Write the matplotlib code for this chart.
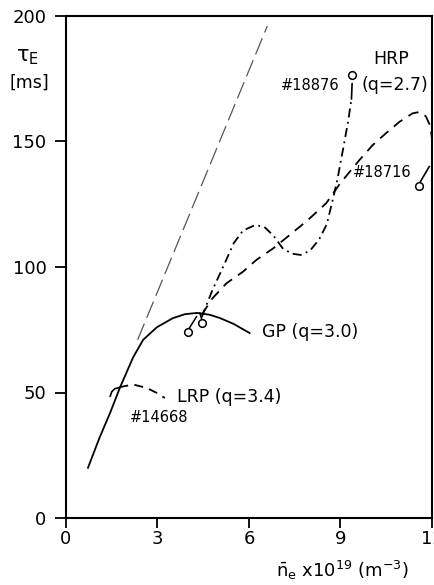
import matplotlib
matplotlib.use("Agg")
import matplotlib.pyplot as plt

# line-averaged density (1e19 m^-3) vs energy confinement time (ms)

# linear scaling line
scaling_n = [2.35, 6.6]
scaling_tau = [71, 196]

# GP (q=3.0)
gp_n = [0.72, 1.1, 1.45, 1.77, 2.2, 2.53, 2.98, 3.5, 3.9, 4.29, 4.7, 5.04, 5.5, 6.02]
gp_tau = [20, 32, 42, 52, 64, 71, 76, 79.6, 81.2, 81.7, 81.0, 79.7, 77.3, 73.7]

# LRP (q=3.4), shot #14668
lrp_hook_n = [1.45, 1.5, 1.6, 1.75]
lrp_hook_tau = [48.5, 50.3, 51.5, 52.0]
lrp_n = [1.75, 1.83, 2.2, 2.65, 3.0, 3.24]
lrp_tau = [52.0, 52.3, 53.2, 51.8, 49.7, 47.8]

# HRP (q=2.7), shot #18876
hrp_n = [4.45, 4.8, 5.15, 5.5, 5.8, 6.2, 6.5, 6.8, 7.1, 7.4, 7.7, 8.0, 8.3,
         8.55, 8.75, 8.9, 9.1, 9.25, 9.36]
hrp_tau = [80, 90.8, 100, 109.5, 114.5, 116.7, 116, 112.5, 107.5, 105.3, 104.8,
           106.5, 111, 117, 127, 135, 148, 158, 167]
hrp_end_n = [9.36, 9.38]
hrp_end_tau = [167, 173]

# shot #18716
s2_n = [4.45, 4.8, 5.26, 5.8, 6.24, 6.79, 7.33, 7.93, 8.53, 9.0, 9.62, 10.05,
        10.5, 10.93, 11.36, 11.6, 11.8, 11.95, 12.0]
s2_tau = [81, 87.5, 93.5, 98.1, 102.8, 107.4, 112.7, 118.7, 125.4, 133.5, 142.6,
          148.5, 153.4, 157.8, 161.2, 161.8, 160, 156, 151]
s2_end_n = [11.62, 11.91]
s2_end_tau = [134, 140]

# open circles marking the end of each shot
marker_n = [3.99, 4.45, 9.39, 11.59]
marker_tau = [74.1, 77.7, 176.5, 132.2]
# short stalks from the GP circles up to the curve
stalk1_n = [4.05, 4.28]
stalk1_tau = [75.8, 80.2]
stalk2_n = [4.44, 4.39]
stalk2_tau = [79.5, 81.7]

fig = plt.figure(figsize=(4.35, 5.85), dpi=100)
ax = fig.add_axes([66 / 435, 1 - 518 / 585, 366 / 435, 502 / 585])

ax.plot(scaling_n, scaling_tau, color="#555555", lw=0.9, ls=(0, (14, 5)))
ax.plot(gp_n, gp_tau, color="black", lw=1.3)
ax.plot(lrp_hook_n, lrp_hook_tau, color="black", lw=1.2)
ax.plot(lrp_n, lrp_tau, color="black", lw=1.3, ls=(0, (5, 3.5)))
ax.plot(hrp_n, hrp_tau, color="black", lw=1.3, ls=(0, (5, 2.5, 1, 2.5)))
ax.plot(hrp_end_n, hrp_end_tau, color="black", lw=1.2)
ax.plot(s2_n, s2_tau, color="black", lw=1.3, ls=(0, (6, 4)))
ax.plot(s2_end_n, s2_end_tau, color="black", lw=1.2)
ax.plot(stalk1_n, stalk1_tau, color="black", lw=1.1)
ax.plot(stalk2_n, stalk2_tau, color="black", lw=1.1)
ax.plot(marker_n, marker_tau, ls="none", marker="o", ms=5.5, mfc="white",
        mec="black", mew=1.1, zorder=5)

ax.set_xlim(0, 12)
ax.set_ylim(0, 200)
ax.set_xticks([0, 3, 6, 9, 12])
ax.set_yticks([0, 50, 100, 150, 200])
ax.tick_params(axis="y", direction="out", length=8, width=1.3, labelsize=13, pad=6)
ax.tick_params(axis="x", direction="out", length=7, width=1.3, labelsize=13, pad=2)
for s in ax.spines.values():
    s.set_linewidth(1.5)

# curve labels
ax.text(10.67, 183, "HRP", fontsize=12.5, ha="center", va="center")
ax.text(8.97, 172.5, "#18876", fontsize=10.5, ha="right", va="center")
ax.text(9.69, 172.5, "(q=2.7)", fontsize=12.5, ha="left", va="center")
ax.text(9.4, 137.5, "#18716", fontsize=10.5, ha="left", va="center")
ax.text(6.42, 74, "GP (q=3.0)", fontsize=12.5, ha="left", va="center")
ax.text(3.63, 48.3, "LRP (q=3.4)", fontsize=12.5, ha="left", va="center")
ax.text(2.1, 40, "#14668", fontsize=10.5, ha="left", va="center")

# axis titles
fig.text(27 / 435, 1 - 57 / 585, r"τ$_{\rm E}$", fontsize=15, ha="center", va="center")
fig.text(29 / 435, 1 - 83 / 585, "[ms]", fontsize=12.5, ha="center", va="center")
ax.text(0.754, -0.104, r"$\bar{\rm n}_{\rm e}$ x10$^{19}$ (m$^{-3}$)",
        transform=ax.transAxes, fontsize=13, ha="center", va="center")

fig.savefig("out.png", dpi=100)
